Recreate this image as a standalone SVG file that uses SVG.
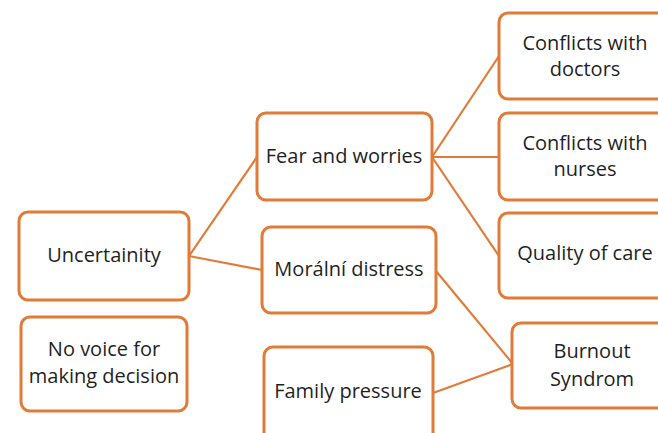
<svg xmlns="http://www.w3.org/2000/svg" width="658" height="433" viewBox="0 0 658 433">
<style>
.box{fill:#fff;stroke:#E07B39;stroke-width:3}
.lbl{font-family:"Open Sans","Noto Sans","Liberation Sans",sans-serif;font-size:20px;fill:#1f1f1f;text-anchor:middle}
.conn{stroke:#E07B39;stroke-width:2.2;fill:none}
</style>
<rect width="658" height="433" fill="#fff"/>
<g id="connectors">
<line class="conn" x1="189" y1="256" x2="257" y2="157"/>
<line class="conn" x1="189" y1="256" x2="262" y2="270"/>
<line class="conn" x1="432" y1="157" x2="499" y2="56"/>
<line class="conn" x1="432" y1="157" x2="499" y2="157"/>
<line class="conn" x1="432" y1="157" x2="499" y2="256"/>
<line class="conn" x1="436" y1="271" x2="513" y2="364"/>
<line class="conn" x1="433" y1="393" x2="513" y2="364"/>
</g>
<g id="uncertainty"><rect class="box" x="19" y="212" width="170" height="88" rx="9"/><text class="lbl" x="104" y="262">Uncertainity</text></g>
<g id="novoice"><rect class="box" x="21" y="317" width="166" height="94" rx="9"/><text class="lbl" x="104" y="356">No voice for</text><text class="lbl" x="104" y="383">making decision</text></g>
<g id="fear"><rect class="box" x="257" y="113" width="175" height="87" rx="9"/><text class="lbl" x="344" y="163">Fear and worries</text></g>
<g id="moral"><rect class="box" x="262" y="227" width="174" height="86" rx="9"/><text class="lbl" x="349" y="276">Morální distress</text></g>
<g id="family"><rect class="box" x="264" y="347" width="169" height="95" rx="9"/><text class="lbl" x="348" y="398">Family pressure</text></g>
<g id="doctors"><rect class="box" x="499" y="13" width="174" height="86" rx="9"/><text class="lbl" x="585" y="50">Conflicts with</text><text class="lbl" x="585" y="76">doctors</text></g>
<g id="nurses"><rect class="box" x="499" y="113" width="174" height="87" rx="9"/><text class="lbl" x="585" y="150">Conflicts with</text><text class="lbl" x="585" y="176">nurses</text></g>
<g id="quality"><rect class="box" x="499" y="213" width="174" height="85" rx="9"/><text class="lbl" x="585" y="260">Quality of care</text></g>
<g id="burnout"><rect class="box" x="512" y="323" width="160" height="85" rx="9"/><text class="lbl" x="592" y="358">Burnout</text><text class="lbl" x="592" y="386">Syndrom</text></g>
</svg>
